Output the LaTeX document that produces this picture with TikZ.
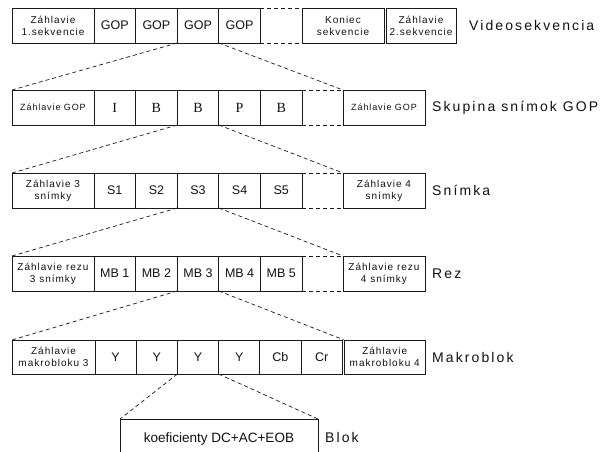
\documentclass[tikz,border=0pt]{standalone}
\usepackage{fontspec}
\setmainfont{Liberation Sans}
\newfontfamily\cellfont{Liberation Sans}
\newfontfamily\hdrfont{Liberation Sans}[LetterSpace=10]
\newfontfamily\framefont{Liberation Serif}
\newfontfamily\levelfont{Liberation Sans}[LetterSpace=15]
\usepackage{tikz}
\usetikzlibrary{positioning}
\definecolor{cLine}{HTML}{1A1A1A}
\definecolor{cText}{HTML}{111111}
\tikzset{
  cell/.style={draw=cLine, line width=0.8pt, outer sep=0pt, text=cText, align=center,
               inner sep=1pt, minimum width=#1, minimum height=35pt,
               font=\cellfont\fontsize{12.5}{13}\selectfont},
  cell/.default=41.6pt,
  hdr/.style={cell=#1, font=\hdrfont\fontsize{10}{12}\selectfont},
  hdr/.default=82pt,
  frm/.style={cell, font=\framefont\fontsize{14}{15}\selectfont},
  lvl/.style={anchor=west, inner sep=0pt, text=cText, font=\levelfont\fontsize{14}{16}\selectfont},
  zoomline/.style={draw=cLine, line width=0.7pt, dash pattern=on 4pt off 3pt},
}

\begin{document}
\begin{tikzpicture}[x=1pt, y=-1pt]
  \useasboundingbox (0,0) rectangle (600,452);
  \clip (0,0) rectangle (600,452);

  % Videosekvencia
  \node[hdr] (s0) at (53,25.5) {Záhlavie\\1.sekvencie};
  \node[cell, right=0pt of s0] (s1) {GOP};
  \node[cell, right=0pt of s1] (s2) {GOP};
  \node[cell, right=0pt of s2] (s3) {GOP};
  \node[cell, right=0pt of s3] (s4) {GOP};
  \node[hdr, right=41.6pt of s4] (send) {Koniec\\sekvencie};
  \node[hdr=70pt, right=2pt of send] (snext) {Záhlavie\\2.sekvencie};
  \draw[zoomline] (s4.north east) -- (send.north west) (s4.south east) -- (send.south west);
  \node[lvl] (lv1) at (469,25.5) {Videosekvencia};

  % Skupina snimok GOP
  \node[hdr, font=\hdrfont\fontsize{9}{11}\selectfont] (g0) at (53,107.5) {Záhlavie GOP};
  \node[frm, right=0pt of g0] (g1) {I};
  \node[frm, right=0pt of g1] (g2) {B};
  \node[frm, right=0pt of g2] (g3) {B};
  \node[frm, right=0pt of g3] (g4) {P};
  \node[frm, right=0pt of g4] (g5) {B};
  \node[hdr, font=\hdrfont\fontsize{9}{11}\selectfont, right=41pt of g5] (gend) {Záhlavie GOP};
  \draw[zoomline] (g5.north east) -- (gend.north west) (g5.south east) -- (gend.south west);
  \draw[zoomline] (s3.south west) -- (g0.north west) (s3.south east) -- (gend.north west);
  \node[lvl] (lv2) at (432,107.5) {Skupina snímok GOP};

  % Snimka
  \node[hdr] (p0) at (53,190.5) {Záhlavie 3\\snímky};
  \node[cell, right=0pt of p0] (p1) {S1};
  \node[cell, right=0pt of p1] (p2) {S2};
  \node[cell, right=0pt of p2] (p3) {S3};
  \node[cell, right=0pt of p3] (p4) {S4};
  \node[cell, right=0pt of p4] (p5) {S5};
  \node[hdr, right=41pt of p5] (pend) {Záhlavie 4\\snímky};
  \draw[zoomline] (p5.north east) -- (pend.north west) (p5.south east) -- (pend.south west);
  \draw[zoomline] (g3.south west) -- (p0.north west) (g3.south east) -- (pend.north west);
  \node[lvl] (lv3) at (432,190.5) {Snímka};

  % Rez
  \node[hdr] (r0) at (53,273.5) {Záhlavie rezu\\3 snímky};
  \node[cell, right=0pt of r0] (r1) {MB 1};
  \node[cell, right=0pt of r1] (r2) {MB 2};
  \node[cell, right=0pt of r2] (r3) {MB 3};
  \node[cell, right=0pt of r3] (r4) {MB 4};
  \node[cell, right=0pt of r4] (r5) {MB 5};
  \node[hdr, right=41pt of r5] (rend) {Záhlavie rezu\\4 snímky};
  \draw[zoomline] (r5.north east) -- (rend.north west) (r5.south east) -- (rend.south west);
  \draw[zoomline] (p3.south west) -- (r0.north west) (p3.south east) -- (rend.north west);
  \node[lvl] (lv4) at (432,273.5) {Rez};

  % Makroblok
  \node[hdr=83pt, minimum height=34pt] (m0) at (53.5,357) {Záhlavie\\makrobloku 3};
  \node[cell=41.2pt, minimum height=34pt, right=0pt of m0] (m1) {Y};
  \node[cell=41.2pt, minimum height=34pt, right=0pt of m1] (m2) {Y};
  \node[cell=41.2pt, minimum height=34pt, right=0pt of m2] (m3) {Y};
  \node[cell=41.2pt, minimum height=34pt, right=0pt of m3] (m4) {Y};
  \node[cell=41.2pt, minimum height=34pt, right=0pt of m4] (m5) {Cb};
  \node[cell=41.2pt, minimum height=34pt, right=0pt of m5] (m6) {Cr};
  \node[hdr=81pt, minimum height=34pt, right=2pt of m6] (mend) {Záhlavie\\makrobloku 4};
  \draw[zoomline] (r3.south west) -- (m0.north west) (r3.south east) -- (mend.north west);
  \node[lvl] (lv5) at (432,357) {Makroblok};

  % Blok
  \node[cell=198pt, minimum height=40pt, font=\cellfont\fontsize{13.5}{15}\selectfont,
        anchor=north west] (b0) at (120,419) {koeficienty DC+AC+EOB};
  \draw[zoomline] (m3.south west) -- (b0.north west) (m3.south east) -- (b0.north east);
  \node[lvl] (lv6) at (325,437) {Blok};
\end{tikzpicture}
\end{document}
